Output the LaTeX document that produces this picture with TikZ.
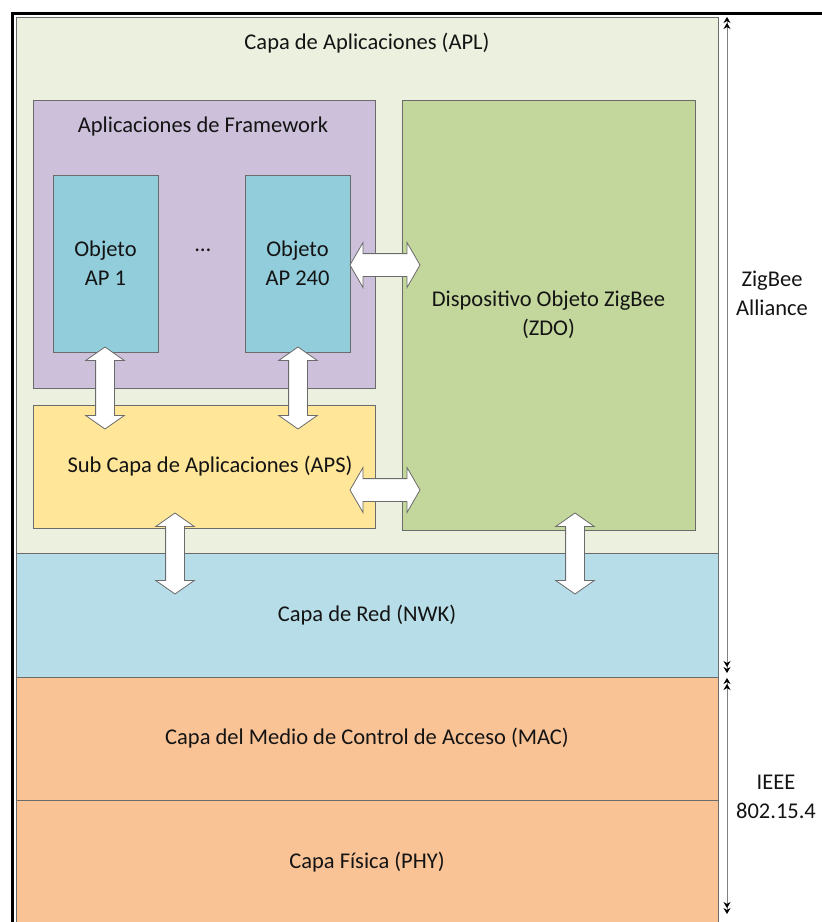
\documentclass[tikz,border=0pt]{standalone}
\usepackage{fontspec}
\setmainfont{Carlito}
\usetikzlibrary{positioning, shapes.arrows, arrows.meta}

\definecolor{borde}{HTML}{6B6B6B}
\definecolor{verdeApl}{HTML}{EBF1DE}
\definecolor{moradoFw}{HTML}{CCC0DA}
\definecolor{azulObj}{HTML}{92CDDC}
\definecolor{verdeZdo}{HTML}{C3D69B}
\definecolor{amarilloAps}{HTML}{FFE699}
\definecolor{azulNwk}{HTML}{B7DEE8}
\definecolor{naranjaIeee}{HTML}{F9C396}

\begin{document}
\begin{tikzpicture}[
    x=1pt, y=-1pt,
    every node/.style={font=\fontsize{22.5}{29}\selectfont, text=black!92},
    capa/.style={rectangle, draw=borde, line width=1pt, anchor=north west, inner sep=0pt, outer sep=0pt, align=center},
    flechaV/.style={double arrow, draw=borde, fill=white, line width=0.8pt, inner sep=0pt, inner ysep=9pt, double arrow head extend=10pt, double arrow tip angle=110, minimum width=0pt, minimum height=82pt, rotate=90},
    flechaH/.style={double arrow, draw=borde, fill=white, line width=0.8pt, inner sep=0pt, inner ysep=11pt, double arrow head extend=11pt, double arrow tip angle=120, minimum width=0pt, minimum height=70pt},
    medida/.style={draw=gray, line width=0.8pt, <<->>, >={Stealth[black, length=6pt, width=7pt]}}
  ]
  \useasboundingbox (0,0) rectangle (822,922);

  % ---------------- Capa de Aplicaciones ----------------
  \node (apl) [capa, fill=verdeApl, minimum width=702pt, minimum height=536pt] at (16,17) {};
  \node (tituloApl) at (367,43) {Capa de Aplicaciones (APL)};

  % Aplicaciones de Framework con sus objetos
  \node (fw) [capa, fill=moradoFw, minimum width=342pt, minimum height=288pt] at (33,100) {};
  \node (tituloFw) at (203,126) {Aplicaciones de Framework};
  \node (obj1) [capa, fill=azulObj, minimum width=105pt, minimum height=177pt] at (53,175) {Objeto\\AP 1};
  \node (obj240) [capa, fill=azulObj, minimum width=105pt, minimum height=177pt] at (245,175) {Objeto\\AP 240};
  \node (puntos) at (203,250) {\ldots};

  % ZDO y sub capa APS
  \node (zdo) [capa, fill=verdeZdo, minimum width=293pt, minimum height=430pt] at (402,100) {Dispositivo Objeto ZigBee\\(ZDO)};
  \node (aps) [capa, fill=amarilloAps, minimum width=342pt, minimum height=123pt] at (33,405) {\hspace*{12pt}Sub Capa de Aplicaciones (APS)};

  % ---------------- Capas inferiores ----------------
  \node (nwk) [capa, fill=azulNwk, minimum width=702pt, minimum height=124pt] at (16,553) {Capa de Red (NWK)};
  \node (mac) [capa, fill=naranjaIeee, minimum width=702pt, minimum height=123pt] at (16,677) {Capa del Medio de Control de Acceso (MAC)};
  \node (phy) [capa, fill=naranjaIeee, minimum width=702pt, minimum height=124pt] at (16,800) {Capa Física (PHY)};

  % Flechas de comunicacion entre bloques
  \node (f1) [flechaV] at (105,388) {};
  \node (f2) [flechaV] at (298,388) {};
  \node (f3) [flechaH] at (385,265) {};
  \node (f4) [flechaH] at (385,490) {};
  \node (f5) [flechaV, minimum height=81pt] at (175,553.5) {};
  \node (f6) [flechaV, minimum height=81pt] at (575,553.5) {};

  % ---------------- Alcance de cada estandar ----------------
  \coordinate (zbArriba) at (727,17);
  \coordinate (zbAbajo) at (727,673);
  \coordinate (ieeeArriba) at (727,678);
  \coordinate (ieeeAbajo) at (727,914);
  \draw [medida] (zbArriba) -- (zbAbajo);
  \draw [medida] (ieeeArriba) -- (ieeeAbajo);
  \node (zigbee) [align=center] at (772,293) {ZigBee\\Alliance};
  \node (ieee) [align=center] at (776,797) {IEEE\\802.15.4};

  % Marco negro
  \draw [line width=3pt] (12.5,922) -- (12.5,13) -- (822,13);
\end{tikzpicture}
\end{document}
